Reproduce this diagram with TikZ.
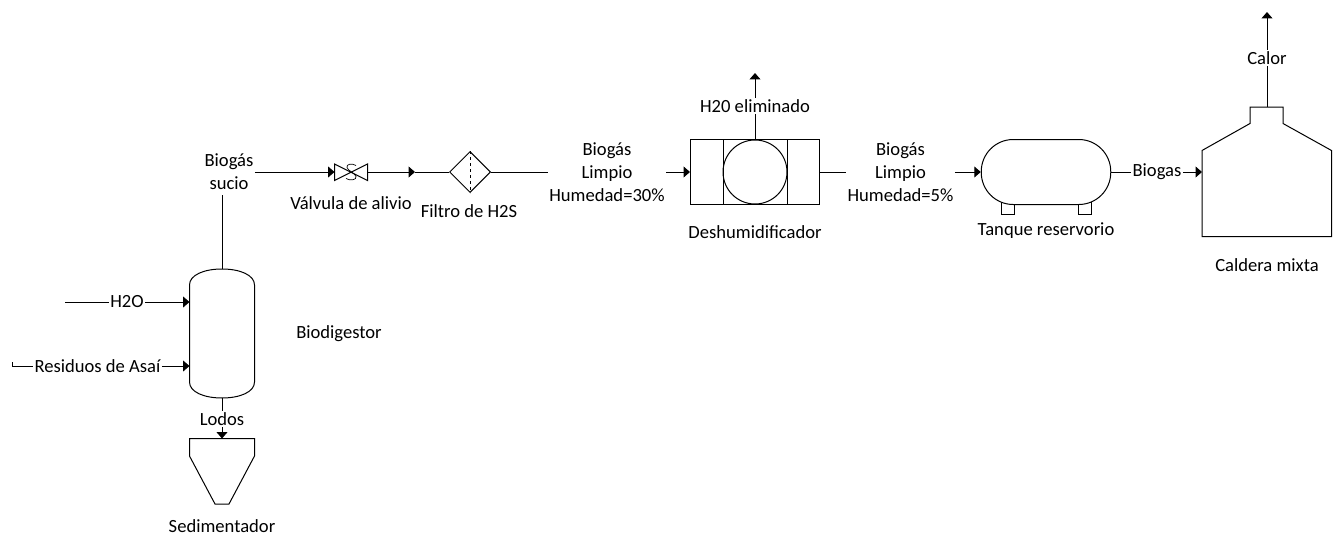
\documentclass[tikz,border=0pt]{standalone}
\usepackage{fontspec}
\setmainfont{Carlito}
\usetikzlibrary{arrows.meta,shapes.geometric}
\tikzset{
  txt/.style={inner sep=1pt,font=\fontsize{18.6}{23}\selectfont,align=center},
  flow/.style={-{Triangle[length=6.5pt,width=11pt]}},
  equipo/.style={draw,inner sep=0pt}
}

\begin{document}
\begin{tikzpicture}[x=1pt,y=-1pt,line width=1pt]
\useasboundingbox (0,0) rectangle (1336,535);

% Biodigestor
\draw (189.5,285) .. controls (189.5,275) and (204,269) .. (222,269) .. controls (240,269) and (254.5,275) .. (254.5,285)
  -- (254.5,382) .. controls (254.5,392) and (240,398) .. (222,398) .. controls (204,398) and (189.5,392) .. (189.5,382) -- cycle;
\coordinate (biotop) at (222,269);
\coordinate (biobot) at (222,398);
\coordinate (bioh2o) at (189.5,302);
\coordinate (biores) at (189.5,366);
\node[txt] (biodigestor) at (339,334) {Biodigestor};

% Entradas
\coordinate (h2oin) at (65,302);
\node[txt] (h2o) at (127,302) {H2O};
\draw (h2oin) -- (h2o);
\draw[flow] (h2o) -- (bioh2o);
\coordinate (resin) at (12,362);
\node[txt] (residuos) at (97.5,366) {Residuos de Asaí};
\draw (resin) |- (residuos);
\draw[flow] (residuos) -- (biores);

% Sedimentador
\draw (189.5,438.5) -- (254.5,438.5) -- (254.5,456) -- (229,504) -- (215,504) -- (189.5,456) -- cycle;
\coordinate (sedtop) at (222,438.5);
\node[txt] (lodos) at (222,419) {Lodos};
\draw (biobot) -- (lodos);
\draw[flow] (lodos) -- (sedtop);
\node[txt] (sedimentador) at (222,526) {Sedimentador};

% Biogas sucio
\node[txt] (sucio) at (229,171.5) {Biogás\\sucio};
\draw (biotop) -- (222,195);

% Valvula
\draw (334.5,164) -- (367.5,180.5) -- (367.5,164) -- (334.5,180.5) -- cycle;
\draw[line width=0.7pt] (356,165.5) .. controls (352,163) and (346,164) .. (347,167.5) .. controls (348,171) and (355,173) .. (356,176.5) .. controls (357,180) and (350,181) .. (346,178.5);
\coordinate (valin) at (334.5,172);
\coordinate (valout) at (367.5,172);
\node[txt] (valvula) at (351,203) {Válvula de alivio};
\draw[flow] (sucio.east |- valin) -- (valin);

% Filtro
\node[equipo,diamond,minimum width=41pt,minimum height=41pt] (filtro) at (470,172) {};
\draw[dashed,line width=0.7pt] (filtro.north) -- (filtro.south);
\node[txt] (filtrotxt) at (469,211) {Filtro de H2S};
\coordinate (filin) at (415,172);
\draw[flow] (valout) -- (filin);
\draw (filin) -- (filtro.west);

% Biogas limpio 30
\node[txt] (limpioa) at (607,172) {Biogás\\Limpio\\Humedad=30\%};
\draw (filtro.east) -- (limpioa);

% Deshumidificador
\node[equipo,minimum width=129pt,minimum height=65pt] (deshum) at (755,172) {};
\node[equipo,minimum width=64pt,minimum height=65pt] (deshumin) at (755,172) {};
\node[equipo,circle,minimum size=64pt] (circulo) at (755,172) {};
\node[txt] (deshumtxt) at (755,232) {Deshumidificador};
\draw[flow] (limpioa) -- (deshum);
\node[txt] (eliminado) at (755,106) {H20 eliminado};
\coordinate (elimout) at (755,73);
\draw (deshum) -- (eliminado);
\draw[flow] (eliminado) -- (elimout);

% Biogas limpio 5
\node[txt] (limpiob) at (900.5,172) {Biogás\\Limpio\\Humedad=5\%};
\draw (deshum) -- (limpiob);

% Tanque
\draw (1001,202) rectangle (1014,214);
\draw (1078,202) rectangle (1091,214);
\node[equipo,fill=white,rounded corners=32pt,minimum width=129.5pt,minimum height=65pt] (tanque) at (1046,172) {};
\node[txt] (tanquetxt) at (1046,231) {Tanque reservorio};
\draw[flow] (limpiob) -- (tanque);

% Caldera
\draw (1202,150.5) -- (1250,123.5) -- (1250,107) -- (1283,107) -- (1283,123.5) -- (1331.5,150.5) -- (1331.5,236.5) -- (1202,236.5) -- cycle;
\coordinate (calin) at (1202,172);
\coordinate (caltop) at (1267,107);
\node[txt] (biogas) at (1157,172) {Biogas};
\draw (tanque) -- (biogas);
\draw[flow] (biogas) -- (calin);
\node[txt] (calor) at (1267,58) {Calor};
\coordinate (calout) at (1267,12);
\draw (caltop) -- (calor);
\draw[flow] (calor) -- (calout);
\node[txt] (caldera) at (1267,265) {Caldera mixta};
\end{tikzpicture}
\end{document}
